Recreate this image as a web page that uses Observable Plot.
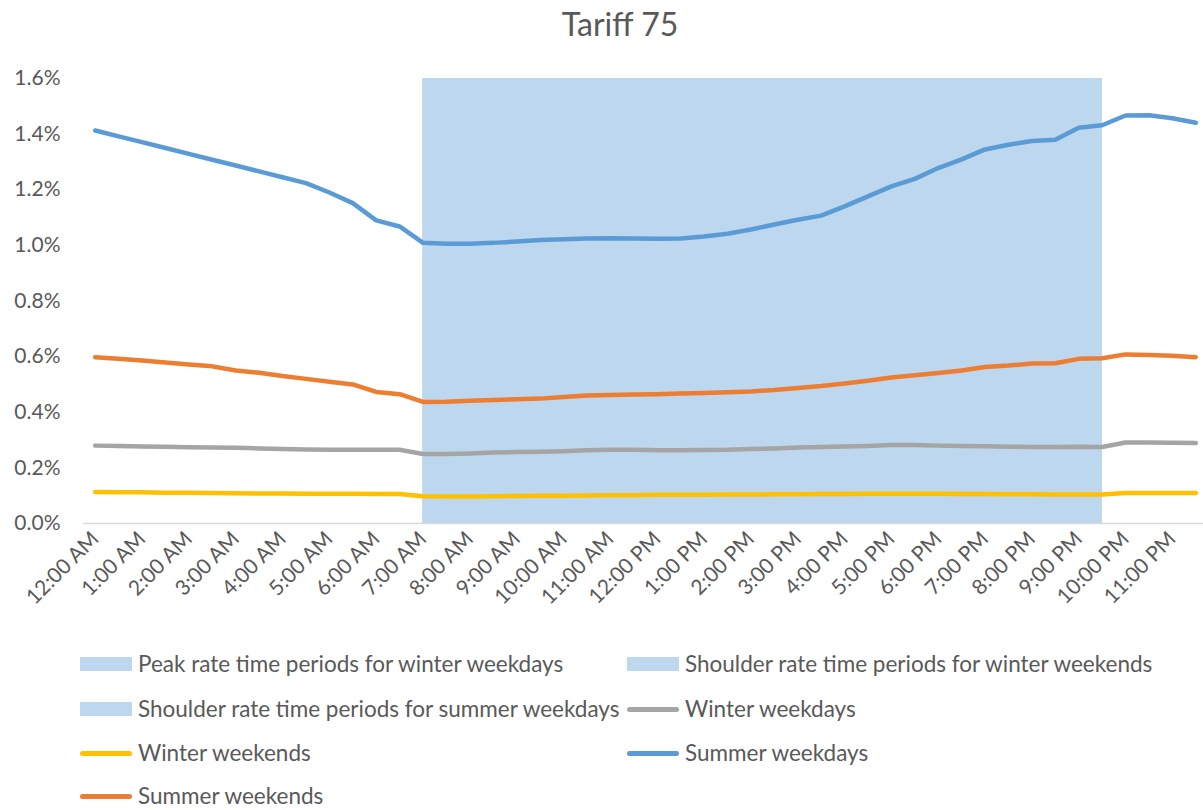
<!DOCTYPE html>
<html>
<head>
<meta charset="utf-8">
<script src="https://cdn.jsdelivr.net/npm/d3@7"></script>
<script src="https://cdn.jsdelivr.net/npm/@observablehq/plot@0.6"></script>
<style>
  html, body { margin: 0; padding: 0; background: #fff; }
  body { width: 1203px; height: 810px; position: relative; overflow: hidden; font-family: Lato, "Open Sans", sans-serif; color: #595959; }
  #title { position: absolute; left: 0; top: 0; width: 1240px; height: 45px; line-height: 48px; text-align: center; font-size: 32px; }
  #chart { position: absolute; left: 0; top: 45px; }
  .leg { position: absolute; font-size: 22.5px; line-height: 26px; white-space: nowrap; display: flex; align-items: center; }
  .sw-rect { width: 52px; height: 14px; background: #bdd7ee; margin-right: 6px; }
  .sw-line { width: 52px; height: 5px; border-radius: 3px; margin-right: 6px; }
</style>
</head>
<body>
<div id="title">Tariff 75</div>
<div id="chart"></div>
<div id="legend"></div>
<script>
// Half-hour slots 0..47 (12:00 AM .. 11:30 PM); labels on the hour
const hourLabels = ["12:00 AM","1:00 AM","2:00 AM","3:00 AM","4:00 AM","5:00 AM","6:00 AM","7:00 AM","8:00 AM","9:00 AM","10:00 AM","11:00 AM",
  "12:00 PM","1:00 PM","2:00 PM","3:00 PM","4:00 PM","5:00 PM","6:00 PM","7:00 PM","8:00 PM","9:00 PM","10:00 PM","11:00 PM"];
const yTicks = [0, 0.002, 0.004, 0.006, 0.008, 0.010, 0.012, 0.014, 0.016];

// Shaded rate periods (slot index start..end, value 1.6%)
const peakWinterWeekdays = [{start: 14, end: 43, value: 0.016}];
const shoulderWinterWeekends = [{start: 14, end: 43, value: 0.016}];
const shoulderSummerWeekdays = [{start: 14, end: 43, value: 0.016}];

// Series values in % (48 half-hour slots)
const winterWeekdays = [0.280,0.279,0.277,0.276,0.274,0.273,0.272,0.270,0.268,0.266,0.265,0.265,0.265,0.265,
  0.250,0.250,0.252,0.255,0.257,0.258,0.260,0.263,0.265,0.265,0.263,0.263,0.264,0.265,0.268,0.270,0.273,0.275,
  0.277,0.279,0.282,0.282,0.280,0.279,0.278,0.276,0.275,0.275,0.276,0.275,0.291,0.291,0.290,0.289];
const winterWeekends = [0.113,0.112,0.112,0.111,0.111,0.110,0.109,0.108,0.108,0.107,0.107,0.107,0.106,0.106,
  0.098,0.097,0.097,0.098,0.099,0.100,0.100,0.101,0.102,0.102,0.103,0.103,0.103,0.104,0.104,0.105,0.105,0.106,
  0.106,0.107,0.107,0.107,0.107,0.106,0.106,0.105,0.105,0.104,0.104,0.104,0.110,0.110,0.110,0.110];
const summerWeekdays = [1.413,1.392,1.371,1.350,1.329,1.308,1.287,1.266,1.245,1.224,1.190,1.152,1.090,1.068,
  1.009,1.006,1.006,1.009,1.014,1.019,1.022,1.025,1.026,1.025,1.024,1.025,1.032,1.042,1.057,1.075,1.092,1.107,
  1.140,1.176,1.212,1.239,1.278,1.309,1.345,1.362,1.375,1.380,1.423,1.432,1.467,1.468,1.457,1.441];
const summerWeekends = [0.598,0.592,0.586,0.579,0.572,0.565,0.550,0.542,0.530,0.520,0.510,0.500,0.473,0.465,
  0.437,0.438,0.441,0.444,0.447,0.449,0.455,0.460,0.462,0.464,0.465,0.467,0.469,0.472,0.475,0.480,0.487,0.494,
  0.503,0.513,0.525,0.533,0.541,0.550,0.563,0.568,0.575,0.576,0.592,0.594,0.608,0.606,0.603,0.598];

const series = [
  {name: "Winter weekdays", values: winterWeekdays, color: "#a5a5a5"},
  {name: "Winter weekends", values: winterWeekends, color: "#ffc000"},
  {name: "Summer weekdays", values: summerWeekdays, color: "#5b9bd5"},
  {name: "Summer weekends", values: summerWeekends, color: "#ed7d31"}
];
const lineData = series.flatMap(s => s.values.map((v, i) => ({slot: i, value: v / 100, name: s.name})));

const chart = Plot.plot({
  width: 1203,
  height: 595,
  marginTop: 33,
  marginBottom: 117,
  marginLeft: 83,
  marginRight: 0,
  style: {fontFamily: "Lato, 'Open Sans', sans-serif", fontSize: "21px", color: "#595959", background: "white", overflow: "visible"},
  x: {domain: [-0.5, 47.33]},
  y: {domain: [0, 0.016]},
  color: {domain: series.map(s => s.name), range: series.map(s => s.color)},
  marks: [
    Plot.rect(peakWinterWeekdays, {x1: "start", x2: "end", y1: 0, y2: "value", fill: "#bdd7ee"}),
    Plot.rect(shoulderWinterWeekends, {x1: "start", x2: "end", y1: 0, y2: "value", fill: "#bdd7ee"}),
    Plot.rect(shoulderSummerWeekdays, {x1: "start", x2: "end", y1: 0, y2: "value", fill: "#bdd7ee"}),
    Plot.ruleY([0], {stroke: "#d9d9d9", strokeWidth: 1.5}),
    Plot.axisY({ticks: yTicks, tickFormat: d3.format(".1%"), tickSize: 0, tickPadding: 23, label: null, fill: "#595959"}),
    Plot.axisX({ticks: d3.range(0, 48, 2), tickFormat: i => hourLabels[i / 2], tickRotate: -45, tickSize: 0, tickPadding: 12, label: null, fill: "#595959"}),
    Plot.lineY(lineData, {x: "slot", y: "value", z: "name", stroke: "name", strokeWidth: 4.5, strokeLinecap: "round", strokeLinejoin: "round"})
  ]
});
document.getElementById("chart").appendChild(chart);

// Legend (Excel-style, two columns)
const legendItems = [
  {label: "Peak rate time periods for winter weekdays", type: "rect", color: "#bdd7ee", x: 80, y: 664},
  {label: "Shoulder rate time periods for winter weekends", type: "rect", color: "#bdd7ee", x: 627, y: 664},
  {label: "Shoulder rate time periods for summer weekdays", type: "rect", color: "#bdd7ee", x: 80, y: 709},
  {label: "Winter weekdays", type: "line", color: "#a5a5a5", x: 627, y: 709},
  {label: "Winter weekends", type: "line", color: "#ffc000", x: 80, y: 753},
  {label: "Summer weekdays", type: "line", color: "#5b9bd5", x: 627, y: 753},
  {label: "Summer weekends", type: "line", color: "#ed7d31", x: 80, y: 796}
];
const legend = document.getElementById("legend");
for (const it of legendItems) {
  const d = document.createElement("div");
  d.className = "leg";
  d.style.left = it.x + "px";
  d.style.top = (it.y - 13) + "px";
  const sw = document.createElement("span");
  sw.className = it.type === "rect" ? "sw-rect" : "sw-line";
  sw.style.background = it.color;
  d.appendChild(sw);
  const t = document.createElement("span");
  t.textContent = it.label;
  d.appendChild(t);
  legend.appendChild(d);
}
</script>
</body>
</html>
